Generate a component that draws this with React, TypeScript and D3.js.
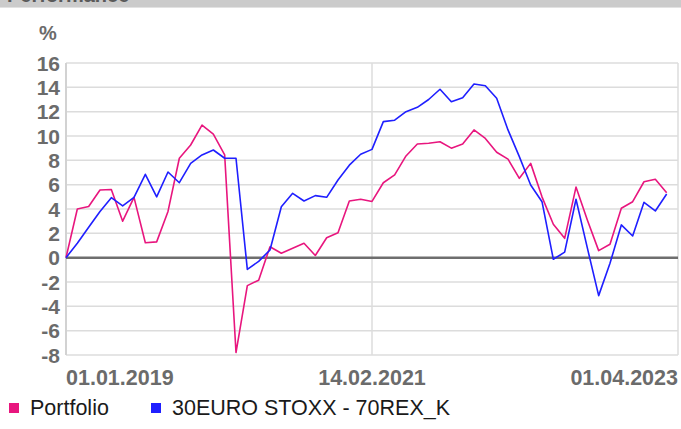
import * as d3 from 'd3';

const W = 681;
const H = 429;

// monthly-ish observations, index 0..53 (axis runs to 54)
const periods = 54;
const xLabels = ['01.01.2019', '14.02.2021', '01.04.2023'];
const yTicks = [-8, -6, -4, -2, 0, 2, 4, 6, 8, 10, 12, 14, 16];

const portfolio = [
  0, 4.0, 4.2, 5.56, 5.6, 3.0, 4.96, 1.23, 1.3, 3.8,
  8.17, 9.26, 10.9, 10.16, 8.44, -7.8, -2.3, -1.85, 0.9, 0.36,
  0.77, 1.18, 0.18, 1.64, 2.05, 4.66, 4.8, 4.62, 6.16, 6.8,
  8.36, 9.34, 9.4, 9.53, 9.0, 9.34, 10.5, 9.8, 8.66, 8.1,
  6.52, 7.75, 5.0, 2.75, 1.59, 5.8, 3.1, 0.58, 1.1, 4.06,
  4.6, 6.24, 6.44, 5.34,
];

const benchmark = [
  0, 1.18, 2.5, 3.8, 4.93, 4.25, 4.96, 6.85, 5.0, 7.04,
  6.16, 7.75, 8.44, 8.85, 8.17, 8.17, -0.96, -0.3, 0.63, 4.19,
  5.29, 4.66, 5.1, 4.96, 6.38, 7.6, 8.5, 8.9, 11.18, 11.3,
  12.0, 12.36, 13.0, 13.84, 12.82, 13.15, 14.27, 14.13, 13.1, 10.5,
  8.3, 5.97, 4.6, -0.13, 0.45, 4.8, 0.8, -3.12, -0.46, 2.69,
  1.78, 4.55, 3.84, 5.23,
];

const series = [
  { name: 'Portfolio', color: '#e8167e', values: portfolio },
  { name: '30EURO STOXX - 70REX_K', color: '#1f1fff', values: benchmark },
];

const font = 'Arial, "Liberation Sans", sans-serif';

export default function App() {
  const x = d3.scaleLinear().domain([0, periods]).range([66, 678]);
  const y = d3.scaleLinear().domain([-8, 16]).range([355, 63]);

  const line = d3.line<number>()
    .x((_, i) => x(i))
    .y(d => y(d));

  const xTickPos = [0, periods / 2, periods];
  const anchors = ['start', 'middle', 'end'];

  return (
    <svg width={W} height={H} style={{ position: 'absolute', left: 0, top: 0, background: '#fff' }}>
      {/* panel header, mostly scrolled off the top */}
      <defs>
        <clipPath id="hdr"><rect x={0} y={0} width={W} height={7} /></clipPath>
      </defs>
      <rect x={0} y={0} width={W} height={7} fill="#cbcbcb" />
      <line x1={0} x2={W} y1={7.5} y2={7.5} stroke="#e2e2e2" strokeWidth={1} />
      <text x={7} y={2} clipPath="url(#hdr)" fontFamily={font} fontWeight="bold" fontSize={20} fill="#5a5a5a">
        Performance
      </text>

      <text x={39} y={40} fontFamily={font} fontWeight="bold" fontSize={20} fill="#6b6b6b">%</text>

      {/* grid */}
      {yTicks.map(t => (
        <line key={t} x1={x(0)} x2={x(periods)} y1={y(t)} y2={y(t)}
          stroke="#dcdcdc" strokeWidth={1.5} />
      ))}
      <line x1={x(periods / 2)} x2={x(periods / 2)} y1={y(16)} y2={y(-8)} stroke="#dcdcdc" strokeWidth={1.5} />
      <line x1={x(0)} x2={x(0)} y1={y(16)} y2={y(-8)} stroke="#d2d2d2" strokeWidth={2} />
      <line x1={x(periods)} x2={x(periods)} y1={y(16)} y2={y(-8)} stroke="#dcdcdc" strokeWidth={1.5} />
      <line x1={x(0)} x2={x(periods)} y1={y(0)} y2={y(0)} stroke="#6e6e6e" strokeWidth={2.5} />

      {/* y labels */}
      {yTicks.map(t => (
        <text key={t} x={60} y={y(t) + 7.5} textAnchor="end" fontFamily={font}
          fontWeight="bold" fontSize={21} fill="#6b6b6b">{t}</text>
      ))}

      {/* x labels */}
      {xLabels.map((l, i) => (
        <text key={l} x={x(xTickPos[i])} y={385} textAnchor={anchors[i]} fontFamily={font}
          fontWeight="bold" fontSize={21.5} fill="#6b6b6b">{l}</text>
      ))}

      {/* lines */}
      {series.map(s => (
        <path key={s.name} d={line(s.values) ?? ''} fill="none" stroke={s.color}
          strokeWidth={1.6} strokeLinejoin="round" />
      ))}

      {/* legend */}
      {series.map((s, i) => {
        const lx = i === 0 ? 9 : 151;
        return (
          <g key={s.name}>
            <rect x={lx} y={403} width={10} height={10} fill={s.color} />
            <text x={lx + 21} y={415} fontFamily={font} fontSize={21.5} fill="#1a1a1a">{s.name}</text>
          </g>
        );
      })}
    </svg>
  );
}
